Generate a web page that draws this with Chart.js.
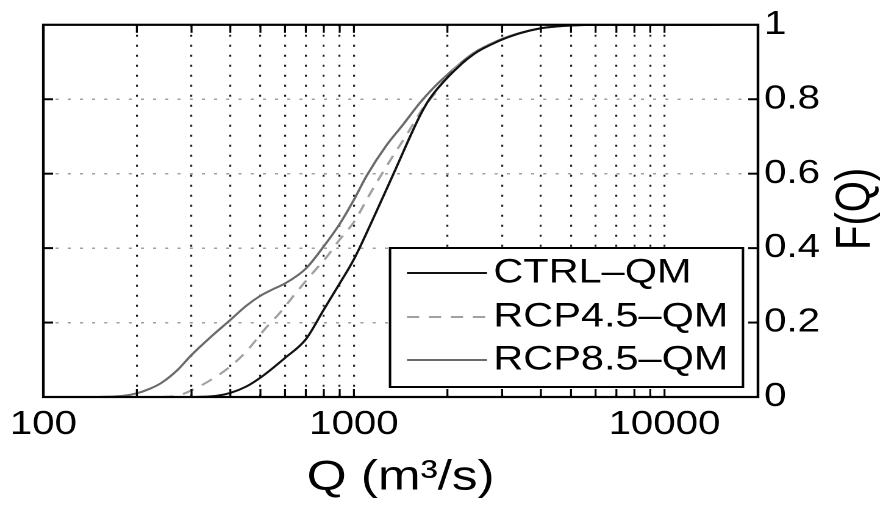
<!DOCTYPE html>
<html><head><meta charset="utf-8">
<script src="https://cdn.jsdelivr.net/npm/chart.js@4/dist/chart.umd.min.js"></script>
<style>
html,body{margin:0;padding:0;background:#fff;overflow:hidden;}
#wrap{width:724px;height:506px;transform:scaleX(1.2196);transform-origin:0 0;}
canvas{display:block;}
</style></head><body>
<div id="wrap"><canvas id="c" width="724" height="506"></canvas></div>
<script>
// ---- data ----
const seriesLabels = ['CTRL\u2013QM', 'RCP4.5\u2013QM', 'RCP8.5\u2013QM'];

const ctrlQ = [310, 360, 400, 450, 500, 600, 700, 800, 900, 1000, 1140, 1350, 1630, 1750, 2000, 2420, 2940, 3420, 3960, 4590, 5330, 6500, 15000];
const ctrlF = [0, 0.003, 0.011, 0.028, 0.052, 0.105, 0.155, 0.235, 0.305, 0.37, 0.47, 0.605, 0.755, 0.8, 0.858, 0.92, 0.957, 0.977, 0.99, 0.996, 0.999, 1, 1];

const rcp45Q = [240, 275, 300, 340, 400, 450, 520, 580, 655, 740, 820, 900, 1000, 1125, 1300, 1480, 1670, 1840, 2000, 2420, 2940, 3420, 3960, 4590, 5330, 6500, 15000];
const rcp45F = [0, 0.005, 0.018, 0.042, 0.082, 0.122, 0.185, 0.228, 0.283, 0.335, 0.378, 0.423, 0.47, 0.545, 0.632, 0.705, 0.776, 0.82, 0.862, 0.921, 0.958, 0.977, 0.99, 0.996, 0.999, 1, 1];

const rcp85Q = [150, 180, 200, 220, 240, 270, 300, 350, 400, 450, 500, 550, 600, 700, 800, 900, 1000, 1100, 1270, 1440, 1630, 1800, 2000, 2420, 2940, 3420, 3960, 4590, 5330, 6500, 15000];
const rcp85F = [0, 0.003, 0.01, 0.022, 0.038, 0.072, 0.113, 0.165, 0.207, 0.245, 0.272, 0.29, 0.305, 0.345, 0.405, 0.465, 0.53, 0.595, 0.675, 0.732, 0.79, 0.83, 0.866, 0.923, 0.959, 0.978, 0.99, 0.996, 0.999, 1, 1];

const xTickValues = [100, 200, 300, 400, 500, 600, 700, 800, 900, 1000, 2000, 3000, 4000, 5000, 6000, 7000, 8000, 9000, 10000, 20000];
const xTickLabels = [100, 1000, 10000];
const yTickValues = [0, 0.2, 0.4, 0.6, 0.8, 1];
const xTitle = 'Q (m\u00B3/s)';
const yTitle = 'F(Q)';

// ---- styles ----
const FONT = 'Liberation Sans, Arial, Helvetica, sans-serif';
const pts = (qs, fs) => qs.map((q, i) => ({x: q, y: fs[i]}));

const overlay = {
  id: 'overlay',
  afterDatasetsDraw(chart) {
    const {ctx, chartArea: a, scales: {x, y}} = chart;
    const line = (x1, y1, x2, y2) => { ctx.beginPath(); ctx.moveTo(x1, y1); ctx.lineTo(x2, y2); ctx.stroke(); };
    ctx.save();
    ctx.setLineDash([]);
    ctx.strokeStyle = '#000';
    // inward ticks
    ctx.lineWidth = 1.6;
    xTickValues.forEach(v => {
      if (v <= x.min || v >= x.max) return;
      const px = x.getPixelForValue(v);
      line(px, a.bottom, px, a.bottom - 8);
      line(px, a.top, px, a.top + 8);
    });
    ctx.lineWidth = 2;
    yTickValues.forEach(v => {
      if (v <= y.min || v >= y.max) return;
      const py = y.getPixelForValue(v);
      line(a.left, py, a.left + 8, py);
      line(a.right, py, a.right - 8, py);
    });
    // frame
    ctx.lineWidth = 2.2;
    ctx.strokeRect(a.left, a.top, a.right - a.left, a.bottom - a.top);

    // legend
    const L = {left: 319.8, top: 248, right: 609.2, bottom: 387, lineX1: 333.7, lineX2: 399.3, textX: 404.5, rows: [273, 317, 360]};
    ctx.fillStyle = '#fff';
    ctx.fillRect(L.left, L.top, L.right - L.left, L.bottom - L.top);
    ctx.lineWidth = 2;
    ctx.strokeStyle = '#000';
    ctx.strokeRect(L.left, L.top, L.right - L.left, L.bottom - L.top);
    chart.data.datasets.forEach((ds, i) => {
      const ry = L.rows[i];
      ctx.strokeStyle = ds.borderColor;
      ctx.lineWidth = ds.borderWidth;
      ctx.setLineDash(ds.borderDash || []);
      line(L.lineX1, ry, L.lineX2, ry);
      ctx.setLineDash([]);
      ctx.fillStyle = '#000';
      ctx.font = '34px ' + FONT;
      ctx.textBaseline = 'middle';
      ctx.textAlign = 'left';
      ctx.fillText(ds.label, L.textX, ry);
    });

    // y title (reads bottom to top)
    ctx.save();
    ctx.translate(702, (a.top + a.bottom) / 2 - 2);
    ctx.rotate(-Math.PI / 2);
    ctx.font = '40px ' + FONT;
    ctx.fillStyle = '#000';
    ctx.textAlign = 'center';
    ctx.textBaseline = 'middle';
    ctx.fillText(yTitle, 0, 0);
    ctx.restore();

    ctx.restore();
  }
};

new Chart(document.getElementById('c'), {
  type: 'line',
  data: {
    datasets: [
      {label: seriesLabels[0], data: pts(ctrlQ, ctrlF), borderColor: '#111111', borderWidth: 2, pointRadius: 0, cubicInterpolationMode: 'monotone', fill: false},
      {label: seriesLabels[1], data: pts(rcp45Q, rcp45F), borderColor: '#a0a0a0', borderWidth: 2, borderDash: [10, 8], pointRadius: 0, cubicInterpolationMode: 'monotone', fill: false},
      {label: seriesLabels[2], data: pts(rcp85Q, rcp85F), borderColor: '#6a6a6a', borderWidth: 2, pointRadius: 0, cubicInterpolationMode: 'monotone', fill: false}
    ]
  },
  plugins: [overlay],
  options: {
    responsive: false,
    devicePixelRatio: 2,
    animation: false,
    layout: {padding: {left: 35.3, top: 23, right: 0, bottom: 0}},
    plugins: {legend: {display: false}, tooltip: {enabled: false}},
    scales: {
      x: {
        type: 'logarithmic', position: 'bottom', min: 100, max: 20000,
        afterBuildTicks: s => { s.ticks = xTickValues.map(v => ({value: v})); },
        afterFit: s => { s.height = 109; },
        ticks: {autoSkip: false, maxRotation: 0, minRotation: 0, padding: 8, color: '#000',
          font: {family: FONT, size: 33},
          callback: v => xTickLabels.includes(v) ? String(v) : ''},
        grid: {drawTicks: false, color: '#1a1a1a',
          lineWidth: c => (c.tick && (c.tick.value <= 100 || c.tick.value >= 20000)) ? 0 : 1.6},
        border: {display: false, dash: [2, 8]},
        title: {display: true, text: xTitle, color: '#000', font: {family: FONT, size: 42, lineHeight: 1}, padding: {top: 0, bottom: 7}}
      },
      y: {
        position: 'right', min: 0, max: 1,
        afterBuildTicks: s => { s.ticks = yTickValues.map(v => ({value: v})); },
        afterFit: s => { s.width = 102.5; },
        ticks: {padding: 5, color: '#000', font: {family: FONT, size: 33}, callback: v => String(v)},
        grid: {drawTicks: false, color: '#a0a0a0',
          lineWidth: c => (c.tick && (c.tick.value <= 0 || c.tick.value >= 1)) ? 0 : 1.5},
        border: {display: false, dash: [2.5, 7.5]}
      }
    }
  }
});
</script>
</body></html>
